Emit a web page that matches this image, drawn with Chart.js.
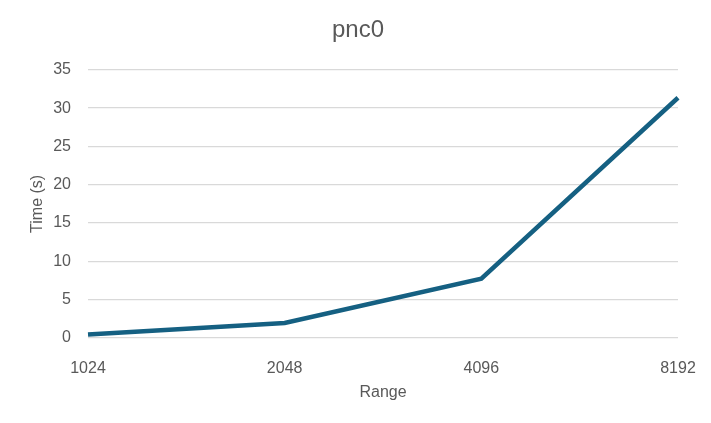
<!DOCTYPE html>
<html lang="en">
<head>
    <meta charset="UTF-8">
    <title>pnc0</title>
    <script src="https://cdn.jsdelivr.net/npm/chart.js"></script>
    <style>
        html, body { margin: 0; padding: 0; background: #fff; }
        #wrap { width: 711px; height: 423px; }
    </style>
</head>
<body>
    <div id="wrap">
        <canvas id="myChart" width="711" height="423"></canvas>
    </div>
    <script>
        // data
        const ranges = ['1024', '2048', '4096', '8192'];
        const times = [0.45, 1.95, 7.75, 31.35];
        const yTicks = [0, 5, 10, 15, 20, 25, 30, 35];

        const grey = '#595959';
        const fontFamily = '"Liberation Sans", Arial, sans-serif';

        const ctx = document.getElementById('myChart').getContext('2d');
        const myChart = new Chart(ctx, {
            type: 'line',
            data: {
                labels: ranges,
                datasets: [
                    {
                        label: 'pnc0',
                        data: times,
                        borderColor: '#156082',
                        borderWidth: 4.5,
                        pointRadius: 0,
                        fill: false,
                        tension: 0,
                    },
                ],
            },
            options: {
                responsive: false,
                animation: false,
                layout: { padding: { top: 0, right: 0, bottom: 0, left: 5 } },
                plugins: {
                    legend: { display: false },
                    tooltip: { enabled: false },
                    title: {
                        display: true,
                        text: 'pnc0',
                        color: grey,
                        font: { family: fontFamily, size: 24, weight: 'normal' },
                        padding: { top: 16, bottom: 25 },
                    },
                },
                scales: {
                    x: {
                        offset: false,
                        grid: { display: false, drawTicks: false },
                        border: { display: false },
                        ticks: {
                            color: grey,
                            font: { family: fontFamily, size: 16 },
                            padding: 21,
                            maxRotation: 0,
                        },
                        title: {
                            display: true,
                            text: 'Range',
                            color: grey,
                            font: { family: fontFamily, size: 16 },
                            padding: { top: 0, bottom: 21 },
                        },
                        afterFit: (scale) => {
                            scale.height = 85;
                            scale.paddingRight = 33;
                        },
                    },
                    y: {
                        min: 0,
                        max: 35,
                        afterBuildTicks: (scale) => {
                            scale.ticks = yTicks.map(v => ({ value: v }));
                        },
                        grid: { color: '#d9d9d9', lineWidth: 1.3, drawTicks: false },
                        border: { display: false },
                        ticks: {
                            color: grey,
                            font: { family: fontFamily, size: 16 },
                            padding: 17,
                        },
                        title: {
                            display: true,
                            text: 'Time (s)',
                            color: grey,
                            font: { family: fontFamily, size: 16 },
                            padding: { top: 23, bottom: 0 },
                        },
                        afterFit: (scale) => { scale.width = 83; },
                    },
                },
            },
        });
    </script>
</body>
</html>
